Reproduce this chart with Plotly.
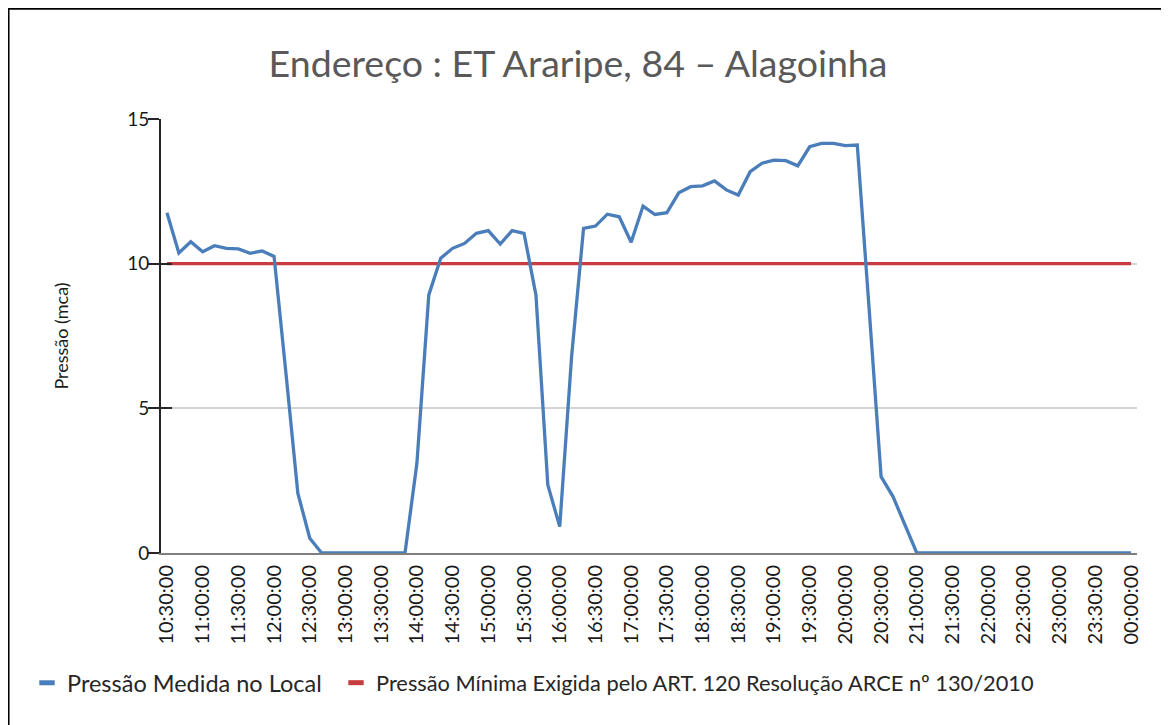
import plotly.graph_objects as go

times = [
    "10:30:00", "10:40:00", "10:50:00", "11:00:00", "11:10:00", "11:20:00",
    "11:30:00", "11:40:00", "11:50:00", "12:00:00", "12:10:00", "12:20:00",
    "12:30:00", "12:40:00", "12:50:00", "13:00:00", "13:10:00", "13:20:00",
    "13:30:00", "13:40:00", "13:50:00", "14:00:00", "14:10:00", "14:20:00",
    "14:30:00", "14:40:00", "14:50:00", "15:00:00", "15:10:00", "15:20:00",
    "15:30:00", "15:40:00", "15:50:00", "16:00:00", "16:10:00", "16:20:00",
    "16:30:00", "16:40:00", "16:50:00", "17:00:00", "17:10:00", "17:20:00",
    "17:30:00", "17:40:00", "17:50:00", "18:00:00", "18:10:00", "18:20:00",
    "18:30:00", "18:40:00", "18:50:00", "19:00:00", "19:10:00", "19:20:00",
    "19:30:00", "19:40:00", "19:50:00", "20:00:00", "20:10:00", "20:20:00",
    "20:30:00", "20:40:00", "20:50:00", "21:00:00", "21:10:00", "21:20:00",
    "21:30:00", "21:40:00", "21:50:00", "22:00:00", "22:10:00", "22:20:00",
    "22:30:00", "22:40:00", "22:50:00", "23:00:00", "23:10:00", "23:20:00",
    "23:30:00", "23:40:00", "23:50:00", "00:00:00",
]

pressao_medida = [
    11.76, 10.37, 10.76, 10.41, 10.62, 10.53,
    10.51, 10.36, 10.44, 10.25, 6.2, 2.06,
    0.51, 0.0, 0.0, 0.0, 0.0, 0.0,
    0.0, 0.0, 0.0, 3.1, 8.92, 10.19,
    10.53, 10.70, 11.05, 11.14, 10.68, 11.14,
    11.05, 8.92, 2.35, 0.91, 6.8, 11.22,
    11.30, 11.71, 11.62, 10.74, 11.99, 11.70,
    11.76, 12.45, 12.66, 12.69, 12.86, 12.55,
    12.37, 13.18, 13.47, 13.58, 13.56, 13.38,
    14.04, 14.16, 14.16, 14.08, 14.10, 8.4,
    2.64, 1.95, 0.95, 0.0, 0.0, 0.0,
    0.0, 0.0, 0.0, 0.0, 0.0, 0.0,
    0.0, 0.0, 0.0, 0.0, 0.0, 0.0,
    0.0, 0.0, 0.0, 0.0,
]

pressao_minima = [10.0] * len(times)

tick_labels = [
    "10:30:00", "11:00:00", "11:30:00", "12:00:00", "12:30:00", "13:00:00",
    "13:30:00", "14:00:00", "14:30:00", "15:00:00", "15:30:00", "16:00:00",
    "16:30:00", "17:00:00", "17:30:00", "18:00:00", "18:30:00", "19:00:00",
    "19:30:00", "20:00:00", "20:30:00", "21:00:00", "21:30:00", "22:00:00",
    "22:30:00", "23:00:00", "23:30:00", "00:00:00",
]

y_ticks = [0, 5, 10, 15]

name_medida = "Pressão Medida no Local"
name_minima = "Pressão Mínima Exigida pelo ART. 120 Resolução ARCE nº 130/2010"
title_text = "Endereço : ET Araripe, 84 – Alagoinha"

BLUE = "#4a7ebb"
RED = "#c83c3f"
FONT = "Lato"

# the page body adds an 8px offset; coordinates below are figure pixels
W, H = 1161, 717
L, R, T, B = 153, 32, 111, 172
PW, PH = W - L - R, H - T - B


def px(xp):
    return (xp - L) / PW


def py(yp):
    return (H - B - yp) / PH


fig = go.Figure()

fig.add_trace(go.Scatter(
    x=times, y=pressao_minima, mode="lines",
    line=dict(color=RED, width=3.2), showlegend=False, hoverinfo="skip",
))
fig.add_trace(go.Scatter(
    x=times, y=pressao_medida, mode="lines",
    line=dict(color=BLUE, width=3.3), showlegend=False,
))
# legend entries (Excel-like short thick swatches), one legend box each
fig.add_trace(go.Scatter(
    x=[None], y=[None], mode="markers", name=name_medida, legend="legend",
    marker=dict(symbol="line-ew", size=11, line=dict(color=BLUE, width=5)),
))
fig.add_trace(go.Scatter(
    x=[None], y=[None], mode="markers", name=name_minima, legend="legend2",
    marker=dict(symbol="line-ew", size=11, line=dict(color=RED, width=5)),
))

# overlay axis to get the inward half of the crossing y ticks
fig.add_trace(go.Scatter(x=[times[0]], y=[0], yaxis="y2", mode="markers",
                         marker=dict(opacity=0), showlegend=False, hoverinfo="skip"))

fig.update_layout(
    width=W, height=H,
    margin=dict(l=L, r=R, t=T, b=B, autoexpand=False),
    paper_bgcolor="white", plot_bgcolor="white",
    font=dict(family=FONT, color="#262626"),
    title=dict(
        text=title_text, x=570 / W, xanchor="center", xref="container",
        y=1 - 56 / H, yanchor="middle", yref="container",
        font=dict(family=FONT, size=37.5, color="#595959"),
    ),
    xaxis=dict(
        type="category", categoryorder="array", categoryarray=times,
        range=[-0.5, len(times) - 0.5],
        tickmode="array", tickvals=tick_labels, ticktext=tick_labels,
        tickangle=-90, tickfont=dict(family=FONT, size=20, color="#1a1a1a"),
        ticklabelstandoff=2,
        showgrid=False, zeroline=False,
        showline=True, linecolor="#7f7f7f", linewidth=2,
        ticks="", ticklen=0,
    ),
    yaxis=dict(
        range=[0, 15], tickvals=y_ticks,
        tickfont=dict(family=FONT, size=19, color="#1a1a1a"),
        ticklabelstandoff=-5,
        showgrid=True, gridcolor="#d4d4d4", gridwidth=1.5,
        zeroline=False,
        showline=True, linecolor="#262626", linewidth=2,
        ticks="outside", ticklen=11, tickwidth=2, tickcolor="#262626",
        title=dict(text="Pressão (mca)", font=dict(family=FONT, size=18, color="#1a1a1a"),
                   standoff=54),
    ),
    yaxis2=dict(
        range=[0, 15], tickvals=y_ticks, overlaying="y", side="left", anchor="x",
        showticklabels=False, showgrid=False, zeroline=False, showline=False,
        ticks="inside", ticklen=11, tickwidth=2, tickcolor="#262626",
    ),
    legend=dict(
        orientation="h", x=px(19), xanchor="left", y=py(675), yanchor="middle",
        font=dict(family=FONT, size=23.5, color="#262626"),
        itemwidth=30, bgcolor="rgba(0,0,0,0)",
    ),
    legend2=dict(
        orientation="h", x=px(328), xanchor="left", y=py(675), yanchor="middle",
        font=dict(family=FONT, size=21.8, color="#262626"),
        itemwidth=30, bgcolor="rgba(0,0,0,0)",
    ),
    shapes=[
        dict(type="line", xref="paper", yref="paper",
             x0=px(-1), x1=px(1170), y0=py(0.5), y1=py(0.5),
             line=dict(color="black", width=2.5)),
        dict(type="line", xref="paper", yref="paper",
             x0=px(0.3), x1=px(0.3), y0=py(-1), y1=py(730),
             line=dict(color="black", width=2.5)),
    ],
)

fig.write_html("out.html")
